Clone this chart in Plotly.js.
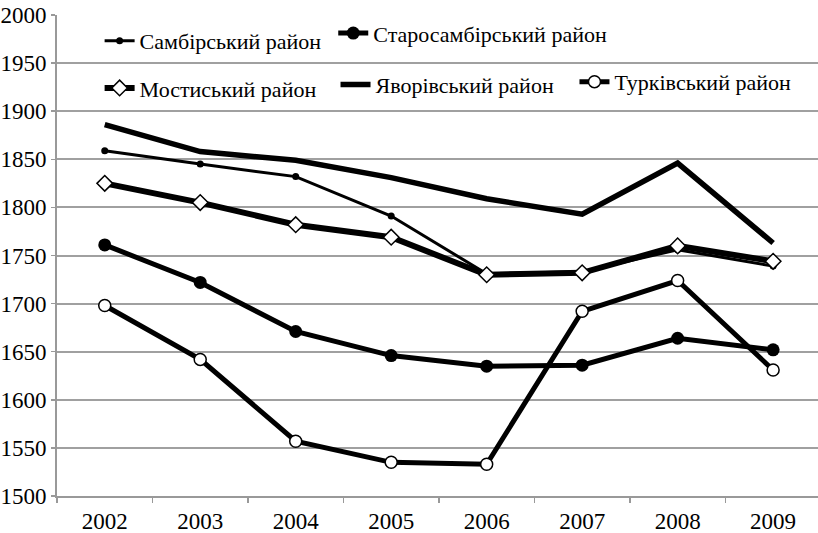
<!DOCTYPE html>
<html>
<head>
<meta charset="utf-8">
<script src="https://cdn.plot.ly/plotly-3.0.1.min.js"></script>
<style>html,body{margin:0;padding:0;background:#fff;}#chart{width:818px;height:533px;}</style>
</head>
<body>
<div id="chart"></div>
<script>
var years = ["2002", "2003", "2004", "2005", "2006", "2007", "2008", "2009"];
var sambirskyi = [1859, 1845, 1832, 1791, 1731, 1733, 1756, 1739];
var starosambirskyi = [1761, 1722, 1671, 1646, 1635, 1636, 1664, 1652];
var mostyskyi = [1825, 1805, 1782, 1769, 1730, 1732, 1760, 1744];
var yavorivskyi = [1886, 1858, 1849, 1831, 1809, 1793, 1846, 1763];
var turkivskyi = [1698, 1642, 1557, 1535, 1533, 1692, 1724, 1631];
var names = ["Самбірський район", "Старосамбірський район", "Мостиський район", "Яворівський район", "Турківський район"];
var yTicks = [1500, 1550, 1600, 1650, 1700, 1750, 1800, 1850, 1900, 1950, 2000];

var traces = [
  {x: years, y: sambirskyi, name: names[0], legend: "legend", mode: "lines+markers",
   line: {color: "#000", width: 3}, marker: {symbol: "circle", size: 7, color: "#000"}},
  {x: years, y: starosambirskyi, name: names[1], legend: "legend2", mode: "lines+markers",
   line: {color: "#000", width: 5}, marker: {symbol: "circle", size: 13, color: "#000"}},
  {x: years, y: mostyskyi, name: names[2], legend: "legend3", mode: "lines+markers",
   line: {color: "#000", width: 6}, marker: {symbol: "diamond", size: 12, color: "#fff", line: {color: "#000", width: 1.5}}},
  {x: years, y: yavorivskyi, name: names[3], legend: "legend4", mode: "lines",
   line: {color: "#000", width: 5.5}},
  {x: years, y: turkivskyi, name: names[4], legend: "legend5", mode: "lines+markers",
   line: {color: "#000", width: 5}, marker: {symbol: "circle", size: 12, color: "#fff", line: {color: "#000", width: 1.5}}}
];

var serif = "Liberation Serif";
function leg(x, y) {
  return {x: x, y: y, xanchor: "left", yanchor: "middle", orientation: "h",
    bgcolor: "rgba(0,0,0,0)", borderwidth: 0, font: {family: serif, size: 22, color: "#000"}};
}

var layout = {
  width: 818, height: 533,
  margin: {l: 57, r: 0, t: 15, b: 37},
  font: {family: serif, size: 23, color: "#000"},
  xaxis: {type: "category", range: [-0.5, 7.47], tickson: "boundaries", ticks: "outside",
    ticklen: 5, tickcolor: "#999", tickwidth: 1.5, showline: true, linecolor: "#999", linewidth: 2,
    showgrid: false, zeroline: false, tickfont: {family: serif, size: 23}, ticklabelstandoff: 3},
  yaxis: {range: [1500, 2000], tickvals: yTicks, ticks: "outside", ticklen: 4,
    tickcolor: "#999", tickwidth: 1.5, showline: true, linecolor: "#999", linewidth: 2,
    showgrid: true, gridcolor: "#a0a0a0", gridwidth: 2, zeroline: false, tickfont: {family: serif, size: 23}},
  showlegend: true,
  legend: leg(0.056, 0.946),
  legend2: leg(0.363, 0.962),
  legend3: leg(0.056, 0.848),
  legend4: leg(0.366, 0.855),
  legend5: leg(0.680, 0.861)
};

Plotly.newPlot("chart", traces, layout, {staticPlot: true});
</script>
</body>
</html>
